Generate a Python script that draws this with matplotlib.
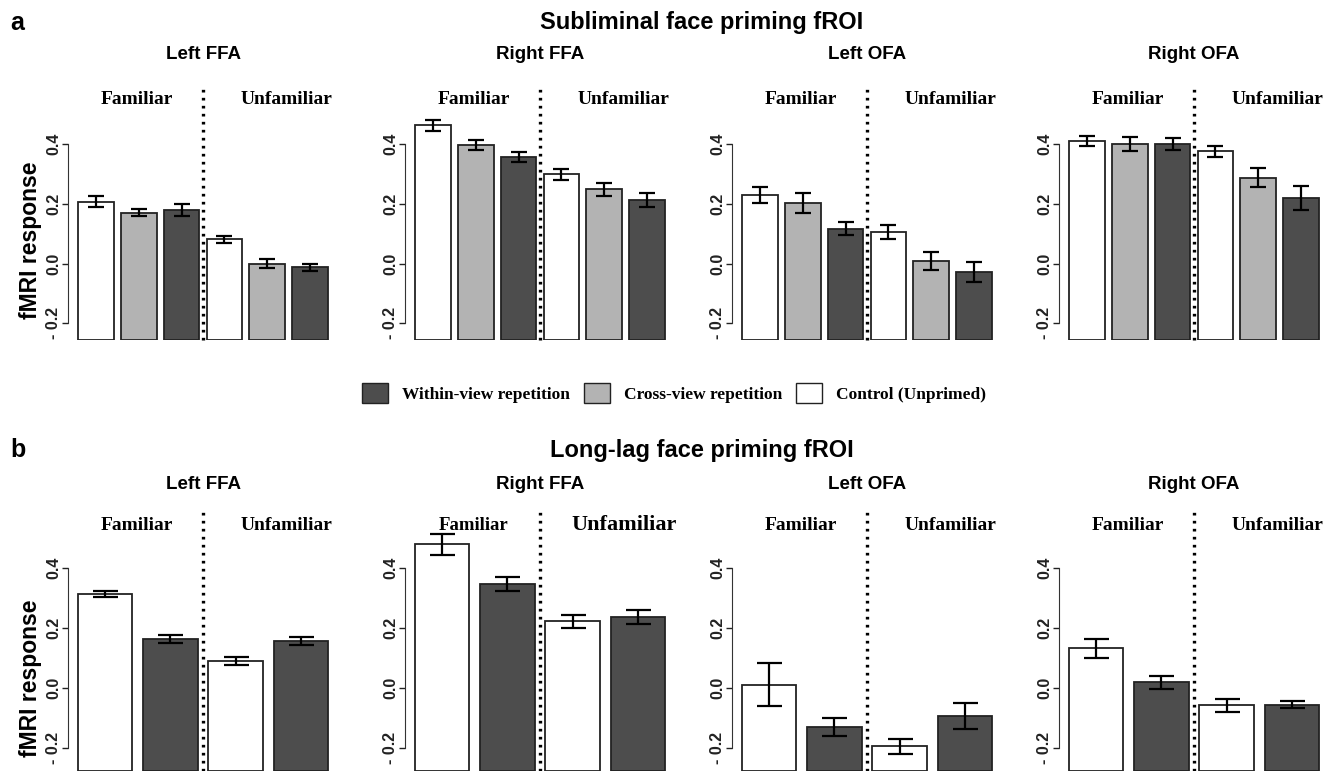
import numpy as np
import matplotlib.pyplot as plt
from matplotlib.patches import Patch
from matplotlib.transforms import blended_transform_factory

# 데이터 (순서: Familiar 그룹, Unfamiliar 그룹)
regions = ["Left FFA", "Right FFA", "Left OFA", "Right OFA"]

# a: control, cross-view, within-view
sub_mean = [
    [0.208, 0.171, 0.178, 0.081, 0.000, -0.013],
    [0.464, 0.398, 0.357, 0.299, 0.249, 0.213],
    [0.231, 0.202, 0.117, 0.106, 0.008, -0.029],
    [0.411, 0.401, 0.401, 0.376, 0.288, 0.220],
]
sub_err = [
    [0.019, 0.011, 0.020, 0.012, 0.016, 0.013],
    [0.018, 0.016, 0.017, 0.018, 0.022, 0.022],
    [0.027, 0.033, 0.023, 0.023, 0.031, 0.033],
    [0.016, 0.023, 0.020, 0.019, 0.031, 0.040],
]

# b: control, within-view
lag_mean = [
    [0.313, 0.164, 0.089, 0.158],
    [0.480, 0.347, 0.222, 0.237],
    [0.011, -0.130, -0.194, -0.092],
    [0.132, 0.019, -0.058, -0.056],
]
lag_err = [
    [0.011, 0.013, 0.013, 0.013],
    [0.035, 0.022, 0.022, 0.023],
    [0.072, 0.030, 0.025, 0.043],
    [0.033, 0.021, 0.022, 0.012],
]

c_within = "#4d4d4d"
c_cross = "#b3b3b3"
c_control = "#ffffff"

sans = "Liberation Sans"
serif = "Liberation Serif"

W, H = 1340, 771
fig = plt.figure(figsize=(W / 100, H / 100), dpi=100)


def px_axes(left, top, width, height):
    return fig.add_axes([left / W, 1 - (top + height) / H, width / W, height / H])


def draw_panel(ax, means, errs, colors, ylim, div_x, line_top, cap, title, title_y, lab_y, lab_sizes):
    n = len(means)
    lefts = 0.2 + 1.2 * np.arange(n)
    floor = ylim[0]
    vals = np.array(means)
    ax.bar(lefts, vals - floor, bottom=floor, width=1.0, align="edge",
           color=colors, edgecolor="#222222", linewidth=1.3, zorder=2)
    ax.errorbar(lefts + 0.5, vals, yerr=errs, fmt="none", ecolor="black",
                elinewidth=1.6, capsize=cap, capthick=1.6, zorder=3)
    span = lefts[-1] + 1.0 - 0.2
    ax.set_xlim(0.2 - 0.04 * span, lefts[-1] + 1.0 + 0.04 * span)
    ax.set_ylim(*ylim)
    ax.plot([div_x, div_x], [floor, line_top], color="black", lw=2.4,
            linestyle=(0, (0.8, 1.6)), clip_on=False, zorder=4)
    for s in ["top", "right", "bottom"]:
        ax.spines[s].set_visible(False)
    ax.spines["left"].set_bounds(-0.2, 0.4)
    ax.spines["left"].set_color("#333333")
    ax.set_xticks([])
    ax.set_yticks([-0.2, 0.0, 0.2, 0.4])
    ax.set_yticklabels(["- 0.2", "0.0", "0.2", "0.4"], rotation=90, va="center",
                       fontfamily=sans, fontweight="bold", fontsize=11.5)
    ax.tick_params(axis="y", length=4, width=1, pad=1, colors="#222222")
    ax.patch.set_visible(False)
    tr = blended_transform_factory(ax.transAxes, ax.transData)
    ax.text(0.5, title_y, title, transform=tr, ha="center", va="center",
            fontfamily=sans, fontweight="bold", fontsize=13.5)
    ax.text(0.255, lab_y, "Familiar", transform=tr, ha="center", va="center",
            fontfamily=serif, fontweight="bold", fontsize=lab_sizes[0])
    ax.text(0.81, lab_y, "Unfamiliar", transform=tr, ha="center", va="center",
            fontfamily=serif, fontweight="bold", fontsize=lab_sizes[1])


ax_left = [68, 405, 732, 1059]
ax_w = 270

# 패널 a
ylim_a = (-0.257, 0.6)
zero_a, scale_a = 263.5, 298.0
top_a = zero_a - ylim_a[1] * scale_a
h_a = (ylim_a[1] - ylim_a[0]) * scale_a
cols_a = [c_control, c_cross, c_within] * 2
for i, r in enumerate(regions):
    ax = px_axes(ax_left[i], top_a, ax_w, h_a)
    draw_panel(ax, sub_mean[i], sub_err[i], cols_a, ylim_a, 3.7, 0.59, 6,
               r, 0.70, 0.552, (14, 14))

legend_handles = [Patch(facecolor=c_within, edgecolor="#222222"),
                  Patch(facecolor=c_cross, edgecolor="#222222"),
                  Patch(facecolor=c_control, edgecolor="#222222")]

# 패널 b
ylim_b = (-0.277, 0.6)
zero_b, scale_b = 688.0, 300.0
top_b = zero_b - ylim_b[1] * scale_b
h_b = (ylim_b[1] - ylim_b[0]) * scale_b
cols_b = [c_control, c_within] * 2
lab_sizes_b = [(14, 14), (13.5, 16), (14, 14), (14, 14)]
for i, r in enumerate(regions):
    ax = px_axes(ax_left[i], top_b, ax_w, h_b)
    draw_panel(ax, lag_mean[i], lag_err[i], cols_b, ylim_b, 2.5, 0.6, 9,
               r, 0.677, 0.543, lab_sizes_b[i])

# 제목, 라벨
fig.text(10 / W, 1 - 23 / H, "a", fontfamily=sans, fontweight="bold", fontsize=18, va="center")
fig.text(10 / W, 1 - 450 / H, "b", fontfamily=sans, fontweight="bold", fontsize=18, va="center")
fig.text(702 / W, 1 - 22 / H, "Subliminal face priming fROI", fontfamily=sans,
         fontweight="bold", fontsize=17, ha="center", va="center")
fig.text(702 / W, 1 - 450 / H, "Long-lag face priming fROI", fontfamily=sans,
         fontweight="bold", fontsize=17, ha="center", va="center")
fig.text(31 / W, 1 - 240 / H, "fMRI response", fontfamily=sans, fontweight="bold",
         fontsize=16.5, rotation=90, ha="center", va="center")
fig.text(31 / W, 1 - 678 / H, "fMRI response", fontfamily=sans, fontweight="bold",
         fontsize=16.5, rotation=90, ha="center", va="center")

fig.legend(legend_handles, ["Within-view repetition", "Cross-view repetition", "Control (Unprimed)"],
           loc="center", bbox_to_anchor=(674 / W, 1 - 393 / H), ncol=3, frameon=False,
           prop={"family": serif, "weight": "bold", "size": 12.5},
           handlelength=1.5, handleheight=1.4, handletextpad=0.8, columnspacing=0.8,
           borderpad=0)

fig.savefig("out.png", dpi=100)
